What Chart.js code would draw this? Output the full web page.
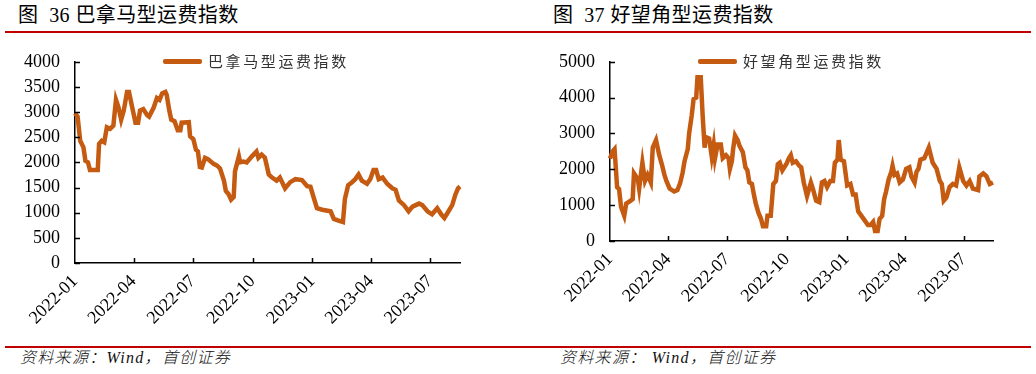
<!DOCTYPE html>
<html>
<head>
<meta charset="utf-8">
<script src="https://cdn.jsdelivr.net/npm/chart.js@4.4.0/dist/chart.umd.min.js"></script>
<style>
  body { margin: 0; background: #fff; }
  #page { position: relative; width: 1036px; height: 374px; overflow: hidden; font-family: "Liberation Serif", "Noto Sans CJK SC", serif; }
  .title { position: absolute; top: 3px; font-size: 20px; line-height: 24px; letter-spacing: 0.4px; color: #000; white-space: nowrap; }
  .rule { position: absolute; left: 5px; width: 1026px; height: 2px; background: #c00000; }
  .source { position: absolute; top: 349px; font-size: 16px; line-height: 18px; letter-spacing: 1.3px; font-style: italic; font-weight: 300; color: #111; white-space: nowrap; }
  .legend { position: absolute; height: 20px; white-space: nowrap; }
  .legend .bar { position: absolute; left: 0; top: 8px; width: 39px; height: 5px; background: #c55a11; border-radius: 2px; }
  .legend .txt { position: absolute; left: 45px; top: 0; font-family: "Noto Sans CJK SC", sans-serif; font-size: 15px; line-height: 20px; letter-spacing: 2.6px; color: #333; }
  canvas { position: absolute; }
</style>
</head>
<body>
<div id="page">
  <div class="title" style="left:18px">图&nbsp; 36 巴拿马型运费指数</div>
  <div class="title" style="left:553px">图&nbsp; 37 好望角型运费指数</div>
  <div class="rule" style="top:31px"></div>
  <div class="rule" style="top:346px"></div>

  <div id="wrapLeft" style="position:absolute;left:0;top:36px;width:520px;height:300px"><canvas id="panamax_chart"></canvas></div>
  <div id="wrapRight" style="position:absolute;left:520px;top:36px;width:516px;height:300px"><canvas id="cape_chart"></canvas></div>

  <div class="legend" style="left:163px;top:51px"><div class="bar"></div><div class="txt">巴拿马型运费指数</div></div>
  <div class="legend" style="left:698px;top:51px"><div class="bar"></div><div class="txt">好望角型运费指数</div></div>

  <div class="source" style="left:20px">资料来源：Wind，首创证券</div>
  <div class="source" style="left:560px">资料来源：&nbsp;Wind，首创证券</div>
</div>

<script>
// x positions are days since 2022-01-01
var tickDays = [0, 90, 181, 273, 365, 455, 546];
var tickLabels = ['2022-01', '2022-04', '2022-07', '2022-10', '2023-01', '2023-04', '2023-07'];

// 巴拿马型运费指数
var panamaxDays = [0, 4, 8, 13, 16, 20, 23, 35, 37, 41, 45, 49, 54, 59, 63, 67, 71, 75, 80, 83,
  88, 93, 97, 100, 105, 111, 114, 121, 126, 130, 134, 139, 141, 145, 148, 153, 158, 162, 164, 175,
  177, 182, 186, 189, 192, 195, 200, 205, 213, 218, 223, 229, 232, 236, 240, 244, 246, 252, 254, 259,
  264, 272, 279, 282, 287, 292, 298, 303, 310, 315, 323, 331, 339, 349, 357, 362, 367, 372, 380, 393,
  398, 404, 412, 415, 420, 426, 431, 436, 441, 449, 454, 459, 463, 467, 473, 480, 488, 493, 498, 506,
  513, 519, 529, 534, 542, 549, 557, 563, 568, 573, 580, 585, 589, 592];
var panamaxValues = [2980, 2910, 2430, 2300, 2030, 2000, 1850, 1850, 2370, 2430, 2400, 2700, 2670, 2730, 3245, 3090, 2850, 3030, 3400, 3400,
  3090, 2790, 2790, 3030, 3060, 2940, 2910, 3090, 3280, 3245, 3370, 3400, 3340, 3030, 2850, 2820, 2640, 2640, 2790, 2800,
  2520, 2460, 2250, 2220, 1910, 1900, 2090, 2060, 1970, 1940, 1880, 1640, 1430, 1370, 1260, 1310, 1820, 2120, 2000, 2015,
  2000, 2120, 2215, 2090, 2155, 2094, 1759, 1698, 1637, 1698, 1485, 1607, 1667, 1650, 1528, 1515, 1302, 1090, 1059, 1028,
  876, 846, 816, 1272, 1546, 1607, 1667, 1759, 1637, 1576, 1667, 1850, 1850, 1667, 1698, 1576, 1485, 1455, 1242, 1150,
  1028, 1120, 1181, 1150, 1028, 968, 1090, 968, 895, 1000, 1150, 1363, 1485, 1520];

// 好望角型运费指数
var capeDays = [0, 4, 7, 11, 14, 17, 22, 25, 32, 35, 37, 43, 45, 50, 54, 58, 63, 66, 71, 76,
  80, 84, 87, 92, 99, 104, 108, 112, 115, 120, 122, 126, 129, 133, 135, 140, 143, 146, 148, 153,
  157, 160, 162, 166, 171, 174, 179, 183, 185, 188, 190, 193, 197, 200, 205, 209, 212, 215, 219, 222,
  225, 229, 233, 236, 241, 243, 248, 252, 256, 259, 262, 266, 272, 276, 279, 282, 287, 292, 295, 299,
  304, 310, 313, 318, 323, 327, 331, 335, 340, 344, 347, 351, 353, 356, 361, 366, 371, 375, 379, 383,
  388, 393, 398, 402, 406, 409, 413, 416, 420, 423, 426, 430, 434, 436, 439, 443, 447, 452, 457, 462,
  465, 470, 473, 476, 479, 485, 488, 492, 495, 498, 504, 509, 512, 515, 519, 524, 529, 534, 539, 545,
  550, 555, 560, 568, 570, 576, 581, 586, 591, 594];
var capeValues = [2300, 2500, 2563, 1500, 1450, 958, 704, 1042, 1127, 1169, 1888, 1719, 1465, 2183, 1676, 1845, 1634, 2606, 2817, 2395,
  2141, 1845, 1676, 1465, 1380, 1423, 1600, 1900, 2225, 2563, 2986, 3493, 3958, 4000, 4570, 4570, 3493, 2606, 2900, 2860,
  2352, 2690, 2310, 2690, 2690, 2310, 2395, 2310, 2014, 2225, 2563, 2944, 2817, 2648, 2479, 2056, 1972, 1634, 1592, 1296,
  1042, 789, 620, 409, 409, 704, 704, 1592, 1676, 2141, 2183, 1972, 2141, 2310, 2395, 2183, 2225, 2100, 2056, 1633,
  1252, 1633, 1464, 1125, 1083, 1633, 1675, 1506, 1675, 1675, 2183, 2268, 2817, 2268, 2225, 1548, 1590, 1294, 1294, 829,
  702, 575, 448, 448, 533, 279, 279, 617, 702, 1167, 1379, 1717, 1929, 2098, 1844, 1887, 1633, 1717, 2014, 2056,
  1802, 1633, 1929, 2014, 2268, 2310, 2436, 2606, 2394, 2183, 2014, 1675, 1590, 1125, 1210, 1506, 1590, 1548, 2056, 1675,
  1548, 1675, 1464, 1421, 1802, 1887, 1802, 1590, 1633, 1675];

function toPoints(xs, ys) {
    var pts = [];
    for (var i = 0; i < xs.length; i++) pts.push({x: xs[i], y: ys[i]});
    return pts;
}

// short tick marks pointing into the plot
var innerTicks = {
    id: 'innerTicks',
    afterDraw: function(chart) {
        var ctx = chart.ctx, area = chart.chartArea;
        var xs = chart.scales.x, ys = chart.scales.y;
        ctx.save();
        ctx.strokeStyle = '#000';
        ctx.lineWidth = 1.5;
        ctx.beginPath();
        xs.ticks.forEach(function(t, i) {
            if (i === 0) return;
            var px = Math.round(xs.getPixelForValue(t.value)) + 0.5;
            ctx.moveTo(px, area.bottom);
            ctx.lineTo(px, area.bottom - 5);
        });
        ys.ticks.forEach(function(t) {
            var py = Math.round(ys.getPixelForValue(t.value)) + 0.5;
            ctx.moveTo(area.left, py);
            ctx.lineTo(area.left + 5, py);
        });
        ctx.stroke();
        ctx.restore();
    }
};

function makeChart(id, days, values, yMax, yStep, xMax, yWidth, xHeight, padRight) {
    var ctx = document.getElementById(id);
    return new Chart(ctx, {
        type: 'line',
        data: {
            datasets: [{
                data: toPoints(days, values),
                borderColor: '#c55a11',
                borderWidth: 4.5,
                pointRadius: 0,
                tension: 0,
                fill: false,
                clip: false
            }]
        },
        options: {
            responsive: true,
            maintainAspectRatio: false,
            animation: false,
            layout: { padding: { top: 8, right: padRight, bottom: 0, left: 0 } },
            plugins: { legend: { display: false }, tooltip: { enabled: false } },
            scales: {
                x: {
                    type: 'linear',
                    min: 0,
                    max: xMax,
                    afterBuildTicks: function(scale) {
                        scale.ticks = tickDays.map(function(d) { return {value: d}; });
                    },
                    afterFit: function(scale) { scale.height = xHeight; },
                    grid: { drawOnChartArea: false, drawTicks: false },
                    border: { color: '#000', width: 1.5 },
                    ticks: {
                        autoSkip: false,
                        minRotation: 45,
                        maxRotation: 45,
                        padding: 8,
                        color: '#000',
                        font: { family: 'Liberation Serif', size: 18 },
                        callback: function(v) {
                            var i = tickDays.indexOf(v);
                            return i >= 0 ? tickLabels[i] : '';
                        }
                    }
                },
                y: {
                    min: 0,
                    max: yMax,
                    afterFit: function(scale) { scale.width = yWidth; },
                    grid: { drawOnChartArea: false, drawTicks: false },
                    border: { color: '#000', width: 1.5 },
                    ticks: {
                        stepSize: yStep,
                        padding: 15,
                        color: '#000',
                        font: { family: 'Liberation Serif', size: 18 },
                        callback: function(v) { return String(v); }
                    }
                }
            }
        },
        plugins: [innerTicks]
    });
}

makeChart('panamax_chart', panamaxDays, panamaxValues, 4000, 500, 592, 75, 73, 60);
makeChart('cape_chart', capeDays, capeValues, 5000, 1000, 591, 90, 95, 43);
</script>
</body>
</html>
